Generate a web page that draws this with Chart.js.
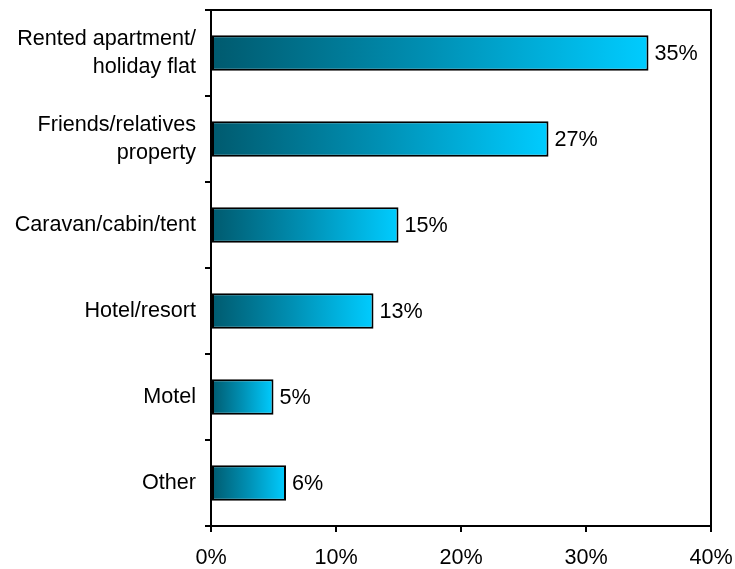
<!DOCTYPE html>
<html>
<head>
<meta charset="utf-8">
<script src="https://cdn.jsdelivr.net/npm/chart.js@4/dist/chart.umd.min.js"></script>
<style>
  html, body { margin: 0; padding: 0; background: #fff; }
  #wrap { width: 735px; height: 569px; }
</style>
</head>
<body>
<div id="wrap"><canvas id="c" width="735" height="569"></canvas></div>
<script>
// Accommodation types (multi-line labels as arrays)
const categories = [
  ['Rented apartment/', 'holiday flat'],
  ['Friends/relatives', 'property'],
  'Caravan/cabin/tent',
  'Hotel/resort',
  'Motel',
  'Other'
];
// Share of respondents, percent
const shares = [35, 27, 15, 13, 5, 6];
// Axis range and step, percent
const axisMin = 0;
const axisMax = 40;
const axisStep = 10;

const FONT = "'Liberation Sans', Arial, sans-serif";
const FONT_SIZE = 21.6;

// Left-to-right gradient spanning each bar from its base to its end
function barGradient(ctx) {
  const chart = ctx.chart;
  const xs = chart.scales.x;
  if (!xs || !chart.chartArea) return '#0090b0';
  const v = ctx.raw;
  const x0 = xs.getPixelForValue(0);
  const x1 = xs.getPixelForValue(v);
  const g = chart.ctx.createLinearGradient(x0, 0, x1, 0);
  g.addColorStop(0, '#005a6e');
  g.addColorStop(0.5, '#0090b4');
  g.addColorStop(1, '#00ccff');
  return g;
}

// Frame around the plot area (top and right edges)
const framePlugin = {
  id: 'frame',
  afterDraw(chart) {
    const a = chart.chartArea;
    const c = chart.ctx;
    c.save();
    c.strokeStyle = '#000';
    c.lineWidth = 2;
    c.beginPath();
    c.moveTo(a.left, a.top);
    c.lineTo(a.right, a.top);
    c.lineTo(a.right, a.bottom);
    c.stroke();
    c.restore();
  }
};

// Value labels to the right of each bar
const valueLabels = {
  id: 'valueLabels',
  afterDatasetsDraw(chart) {
    const c = chart.ctx;
    const meta = chart.getDatasetMeta(0);
    c.save();
    c.fillStyle = '#000';
    c.font = FONT_SIZE + 'px ' + FONT;
    c.textAlign = 'left';
    c.textBaseline = 'middle';
    meta.data.forEach((el, i) => {
      c.fillText(shares[i] + '%', el.x + 6, el.y + 1);
    });
    c.restore();
  }
};

new Chart(document.getElementById('c'), {
  type: 'bar',
  data: {
    labels: categories,
    datasets: [{
      data: shares,
      backgroundColor: barGradient,
      borderColor: '#000',
      borderWidth: 2,
      borderSkipped: false,
      categoryPercentage: 1,
      barPercentage: 0.41
    }]
  },
  options: {
    indexAxis: 'y',
    responsive: false,
    animation: false,
    layout: { padding: { left: 0, right: 24, top: 10, bottom: 0 } },
    plugins: { legend: { display: false }, tooltip: { enabled: false } },
    scales: {
      x: {
        min: axisMin,
        max: axisMax,
        afterFit(s) { s.height = 43; s.paddingLeft = 0; s.paddingRight = 0; },
        ticks: {
          stepSize: axisStep,
          callback: v => v + '%',
          color: '#000',
          padding: 13,
          font: { family: FONT, size: FONT_SIZE },
          maxRotation: 0
        },
        grid: { drawOnChartArea: false, tickLength: 6, color: '#000', lineWidth: 2 },
        border: { color: '#000', width: 2 }
      },
      y: {
        afterFit(s) { s.width = 211; s.paddingTop = 0; s.paddingBottom = 0; },
        ticks: {
          color: '#000',
          padding: 9,
          font: { family: FONT, size: FONT_SIZE, lineHeight: 1.3 }
        },
        grid: { drawOnChartArea: false, offset: true, tickLength: 6, color: '#000', lineWidth: 2 },
        border: { color: '#000', width: 2 }
      }
    }
  },
  plugins: [framePlugin, valueLabels]
});
</script>
</body>
</html>
